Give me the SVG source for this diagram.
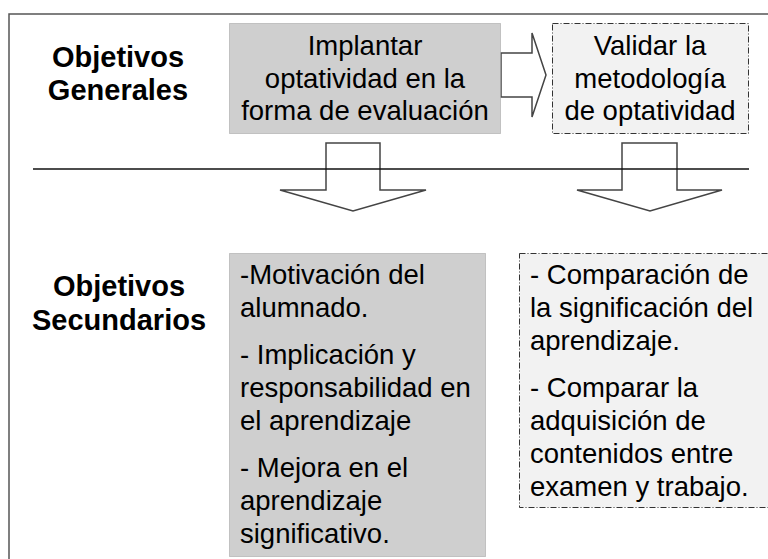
<svg xmlns="http://www.w3.org/2000/svg" width="768" height="559" viewBox="0 0 768 559">
<style>
.hd{font-family:"Liberation Sans",Arial,sans-serif;font-weight:bold;font-size:29px;fill:#000;text-anchor:middle}
.tc{font-family:"Liberation Sans",Arial,sans-serif;font-size:27.5px;fill:#000;text-anchor:middle}
.tl{font-family:"Liberation Sans",Arial,sans-serif;font-size:27.5px;fill:#000}
.dark{fill:#cfcfcf;stroke:#9a9a9a;stroke-width:1;stroke-dasharray:1 1}
.light{fill:#f2f2f2;stroke:#333;stroke-width:1;stroke-dasharray:6 2 1 2}
.arr{fill:#fff;stroke:#444;stroke-width:1.5;stroke-linejoin:miter}
</style>
<rect x="0" y="0" width="768" height="559" fill="#fff"/>
<path d="M9,575 L9,14 L780,14" fill="none" stroke="#555" stroke-width="1.5"/>
<g id="label-generales">
<text class="hd" x="118" y="67">Objetivos</text>
<text class="hd" x="118" y="100">Generales</text>
</g>
<g id="label-secundarios">
<text class="hd" x="119" y="296">Objetivos</text>
<text class="hd" x="119" y="330">Secundarios</text>
</g>
<g id="connectors">
<polygon class="arr" points="501,53 532,53 532,33 546,75 532,117 532,97 501,97"/>
<polygon class="arr" points="326,143 380,143 380,190 426,190 353,211 280,190 326,190"/>
<polygon class="arr" points="622,143 677,143 677,190 722,190 650,211 577,190 622,190"/>
</g>
<line id="divider" x1="33" y1="169" x2="749" y2="169" stroke="#111" stroke-width="1.5"/>
<g id="node-implantar">
<rect class="dark" x="229.5" y="23.5" width="271" height="110"/>
<text class="tc" x="365" y="55">Implantar</text>
<text class="tc" x="365" y="88">optatividad en la</text>
<text class="tc" x="365" y="120">forma de evaluación</text>
</g>
<g id="node-validar">
<rect class="light" x="552.5" y="23.5" width="196" height="110"/>
<text class="tc" x="650" y="55">Validar la</text>
<text class="tc" x="650" y="88">metodología</text>
<text class="tc" x="650" y="120">de optatividad</text>
</g>
<g id="node-secundarios-1">
<rect class="dark" x="229.5" y="253.5" width="256" height="303"/>
<text class="tl" x="240" y="284">-Motivación del</text>
<text class="tl" x="240" y="317">alumnado.</text>
<text class="tl" x="240" y="364">- Implicación y</text>
<text class="tl" x="240" y="397">responsabilidad en</text>
<text class="tl" x="240" y="430">el aprendizaje</text>
<text class="tl" x="240" y="477">- Mejora en el</text>
<text class="tl" x="240" y="510">aprendizaje</text>
<text class="tl" x="240" y="543">significativo.</text>
</g>
<g id="node-secundarios-2">
<rect class="light" x="519.5" y="253.5" width="260" height="254"/>
<text class="tl" x="530" y="284">- Comparación de</text>
<text class="tl" x="530" y="317">la significación del</text>
<text class="tl" x="530" y="350">aprendizaje.</text>
<text class="tl" x="530" y="397">- Comparar la</text>
<text class="tl" x="530" y="430">adquisición de</text>
<text class="tl" x="530" y="463">contenidos entre</text>
<text class="tl" x="530" y="496">examen y trabajo.</text>
</g>
</svg>
